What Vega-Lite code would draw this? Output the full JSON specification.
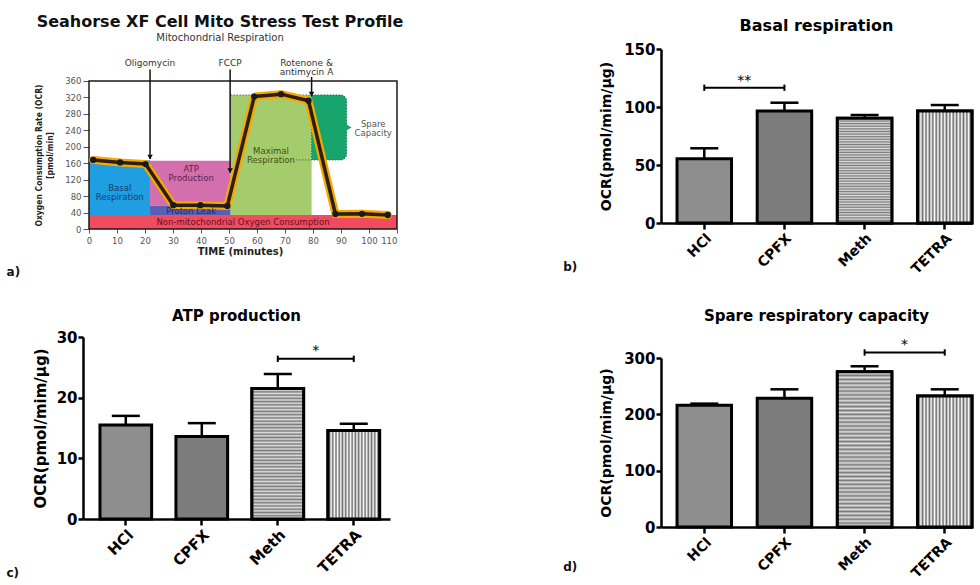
{
  "$schema": "https://vega.github.io/schema/vega-lite/v6.json",
  "padding": {"left": 6, "top": 14, "right": 1, "bottom": 0},
  "background": "white",
  "spacing": 159,
  "hconcat": [
    {
      "spacing": 31,
      "vconcat": [
        {
          "width": 314,
          "height": 180,
          "title": {"text": "Seahorse XF Cell Mito Stress Test Profile", "subtitle": "Mitochondrial Respiration", "fontSize": 16, "fontWeight": "bold", "color": "#111", "subtitleFontSize": 10, "subtitleColor": "#333", "subtitlePadding": 3, "anchor": "middle", "frame": "group", "dx": -20, "offset": 6},
          "resolve": {"scale": {"color": "independent"}},
          "layer": [
            {
              "data": {"values": [
                {"region": "nonmito", "t": 0, "t2": 110, "y": 0, "y2": 34},
                {"region": "basal", "t": 0, "t2": 21.8, "y": 34, "y2": 167},
                {"region": "atp", "t": 21.8, "t2": 50.6, "y": 56.5, "y2": 166},
                {"region": "leak", "t": 21.8, "t2": 50.6, "y": 34, "y2": 56.5},
                {"region": "maximal", "t": 50.6, "t2": 79.5, "y": 34, "y2": 326}
              ]},
              "mark": {"type": "rect"},
              "encoding": {
                "x": {"field": "t", "type": "quantitative", "scale": {"domain": [-2.143, 110], "nice": false, "zero": false},
                  "axis": {"values": [0, 10, 20, 30, 40, 50, 60, 70, 80, 90, 100, 110], "tickCount": 12, "labelOverlap": false, "labelSeparation": 0, "domain": false, "title": "TIME (minutes)", "titleFontSize": 10, "titleFontWeight": "bold", "titleColor": "#222", "labelFont": "DejaVu Sans Condensed, Liberation Sans Narrow, sans-serif", "labelFontSize": 9.5, "labelColor": "#555", "tickColor": "#555", "tickSize": 4, "labelPadding": 2, "titlePadding": 2}},
                "x2": {"field": "t2"},
                "y": {"field": "y", "type": "quantitative", "scale": {"domain": [0, 437.8], "nice": false},
                  "axis": {"values": [0, 40, 80, 120, 160, 200, 240, 280, 320, 360], "tickCount": 10, "labelOverlap": false, "labelSeparation": 0, "domain": false, "offset": -6, "title": ["Oxygen Consumption Rate (OCR)", "[pmol/min]"], "titleFont": "DejaVu Sans Condensed, Liberation Sans Narrow, sans-serif", "titleFontSize": 8.5, "titleFontWeight": "bold", "titleColor": "#222", "titleY": 106, "titleLineHeight": 11, "labelFont": "DejaVu Sans Condensed, Liberation Sans Narrow, sans-serif", "labelFontSize": 9.5, "labelColor": "#555", "tickColor": "#555", "tickSize": 6, "labelPadding": 2, "titlePadding": 10}},
                "y2": {"field": "y2"},
                "color": {"field": "region", "type": "nominal", "scale": {"domain": ["nonmito", "basal", "atp", "leak", "maximal"], "range": ["#f04b5f", "#1f9ee2", "#d46fae", "#5a5fb3", "#a4cc6c"]}, "legend": null}
              }
            },
            {
              "data": {"values": [{"t": 79.5, "t2": 92, "y": 168, "y2": 326}]},
              "mark": {"type": "rect", "fill": "#18a56d", "stroke": "#0d7a4e", "strokeDash": [1.5, 1.5], "strokeWidth": 1, "cornerRadiusTopRight": 6, "cornerRadiusBottomRight": 6},
              "encoding": {"x": {"field": "t", "type": "quantitative"}, "x2": {"field": "t2"}, "y": {"field": "y", "type": "quantitative"}, "y2": {"field": "y2"}}
            },
            {
              "data": {"values": [{"t": 92.6, "y": 247}]},
              "mark": {"type": "point", "shape": "triangle-right", "filled": true, "color": "#18a56d", "size": 60, "opacity": 1},
              "encoding": {"x": {"field": "t", "type": "quantitative"}, "y": {"field": "y", "type": "quantitative"}}
            },
            {
              "data": {"values": [{"t": 50.6, "t2": 79.5, "y": 326}, {"t": 74, "t2": 79.5, "y": 168}]},
              "mark": {"type": "rule", "strokeDash": [1, 2], "color": "#2d4a2d", "strokeWidth": 1},
              "encoding": {"x": {"field": "t", "type": "quantitative"}, "x2": {"field": "t2"}, "y": {"field": "y", "type": "quantitative"}}
            },
            {
              "data": {"values": [{"t": 0, "t2": 110, "y": 0, "y2": 360}]},
              "mark": {"type": "rect", "fill": null, "fillOpacity": 0, "stroke": "#1a1a1a", "strokeWidth": 1.5},
              "encoding": {"x": {"field": "t", "type": "quantitative"}, "x2": {"field": "t2"}, "y": {"field": "y", "type": "quantitative"}, "y2": {"field": "y2"}}
            },
            {
              "data": {"name": "ocr", "values": [
                {"t": 1.5, "y": 168}, {"t": 11.1, "y": 162}, {"t": 20.2, "y": 158},
                {"t": 30.1, "y": 58}, {"t": 39.8, "y": 58}, {"t": 49.4, "y": 56},
                {"t": 59, "y": 322}, {"t": 68.6, "y": 328}, {"t": 78.4, "y": 312},
                {"t": 88, "y": 36.5}, {"t": 97.5, "y": 37}, {"t": 106.7, "y": 34}
              ]},
              "layer": [
                {"mark": {"type": "line", "color": "#f5a900", "strokeWidth": 8, "strokeCap": "round", "strokeJoin": "round"}, "encoding": {"x": {"field": "t", "type": "quantitative"}, "y": {"field": "y", "type": "quantitative"}}},
                {"mark": {"type": "line", "color": "#2a1f10", "strokeWidth": 3.5, "strokeJoin": "round"}, "encoding": {"x": {"field": "t", "type": "quantitative"}, "y": {"field": "y", "type": "quantitative"}}},
                {"mark": {"type": "point", "filled": true, "color": "#1a1a1a", "size": 40, "opacity": 1}, "encoding": {"x": {"field": "t", "type": "quantitative"}, "y": {"field": "y", "type": "quantitative"}}}
              ]
            },
            {
              "data": {"name": "arrows", "values": [
                {"t": 21.8, "y": 388, "y2": 170},
                {"t": 50.4, "y": 388, "y2": 137},
                {"t": 79.5, "y": 370, "y2": 323}
              ]},
              "layer": [
                {"mark": {"type": "rule", "color": "#111", "strokeWidth": 1.5}, "encoding": {"x": {"field": "t", "type": "quantitative"}, "y": {"field": "y", "type": "quantitative"}, "y2": {"field": "y2"}}},
                {"mark": {"type": "point", "shape": "triangle-down", "filled": true, "color": "#111", "size": 30, "opacity": 1}, "encoding": {"x": {"field": "t", "type": "quantitative"}, "y": {"field": "y2", "type": "quantitative"}, "yOffset": {"value": -2}}}
              ]
            },
            {
              "data": {"values": [
                {"t": 21.8, "y": 404, "label": "Oligomycin"},
                {"t": 50.4, "y": 404, "label": "FCCP"},
                {"t": 77.7, "y": 404, "label": "Rotenone &"},
                {"t": 77.7, "y": 383, "label": "antimycin A"}
              ]},
              "mark": {"type": "text", "fontSize": 9, "color": "#333", "baseline": "middle"},
              "encoding": {"x": {"field": "t", "type": "quantitative"}, "y": {"field": "y", "type": "quantitative"}, "text": {"field": "label"}}
            },
            {
              "data": {"values": [
                {"t": 11, "y": 100, "label": "Basal", "region": "basal"},
                {"t": 11, "y": 79, "label": "Respiration", "region": "basal"},
                {"t": 36.5, "y": 146, "label": "ATP", "region": "atp"},
                {"t": 36.5, "y": 124, "label": "Production", "region": "atp"},
                {"t": 36.5, "y": 44, "label": "Proton Leak", "region": "leak"},
                {"t": 55, "y": 17, "label": "Non-mitochondrial Oxygen Consumption", "region": "nonmito"},
                {"t": 65, "y": 190, "label": "Maximal", "region": "maximal"},
                {"t": 65, "y": 169, "label": "Respiration", "region": "maximal"},
                {"t": 101.5, "y": 255, "label": "Spare", "region": "spare"},
                {"t": 101.5, "y": 234, "label": "Capacity", "region": "spare"}
              ]},
              "mark": {"type": "text", "fontSize": 8.5, "baseline": "middle"},
              "encoding": {
                "x": {"field": "t", "type": "quantitative"},
                "y": {"field": "y", "type": "quantitative"},
                "text": {"field": "label"},
                "color": {"field": "region", "type": "nominal", "scale": {"domain": ["basal", "atp", "leak", "nonmito", "maximal", "spare"], "range": ["#173a6b", "#5b1f4a", "#1b2a5c", "#6a0f22", "#3b4d1f", "#555555"]}, "legend": null}
              }
            },
            {
              "data": {"values": [{"t": -27, "y": -104, "label": "a)"}]},
              "mark": {"type": "text", "fontSize": 12, "fontWeight": "bold", "color": "#111", "baseline": "middle"},
              "encoding": {"x": {"field": "t", "type": "quantitative"}, "y": {"field": "y", "type": "quantitative"}, "text": {"field": "label"}}
            }
          ]
        },
        {
          "width": 307,
          "height": 182,
          "title": {"text": "ATP production", "fontSize": 15, "fontWeight": "bold", "anchor": "middle", "frame": "group", "offset": 6},
          "layer": [
            {
              "data": {"name": "atp", "values": [
                {"g": "HCl", "v": 15.5, "hi": 17.0},
                {"g": "CPFX", "v": 13.6, "hi": 15.8},
                {"g": "Meth", "v": 21.5, "hi": 23.9},
                {"g": "TETRA", "v": 14.6, "hi": 15.7}
              ]},
              "layer": [
                {
                  "mark": {"type": "bar", "stroke": "#000", "strokeWidth": 3},
                  "encoding": {
                    "x": {"field": "g", "type": "nominal", "sort": null, "scale": {"domain": ["HCl", "CPFX", "Meth", "TETRA"], "paddingInner": 0.32, "paddingOuter": 0.18, "align": 0.62},
                      "axis": {"title": null, "labelAngle": -45, "labelFontSize": 15, "labelFontWeight": "bold", "domainWidth": 2.5, "tickWidth": 2.5, "tickSize": 6, "labelPadding": 2}},
                    "y": {"field": "v", "type": "quantitative", "scale": {"domain": [0, 30], "nice": false},
                      "axis": {"values": [0, 10, 20, 30], "title": "OCR(pmol/mim/μg)", "titleFontSize": 15, "titleFontWeight": "bold", "labelFontSize": 15, "labelFontWeight": "bold", "domainWidth": 2.5, "tickWidth": 2.5, "tickSize": 5, "labelPadding": 1, "titlePadding": 8}},
                    "fill": {"field": "g", "type": "nominal", "scale": {"domain": ["HCl", "CPFX", "Meth", "TETRA"], "range": ["#8e8e8e", "#7c7c7c", "#a8a8a8", "#b8b8b8"]}, "legend": null}
                  }
                },
                {"transform": [{"filter": "datum.g === 'Meth'"}], "mark": {"type": "bar", "stroke": "#000", "strokeWidth": 3, "fill": {"gradient": "linear", "x1": 0, "y1": 0, "x2": 0, "y2": 1, "stops": [{"offset":0,"color":"#7a7a7a"},{"offset":0.0125,"color":"#dedede"},{"offset":0.025,"color":"#7a7a7a"},{"offset":0.0375,"color":"#dedede"},{"offset":0.05,"color":"#7a7a7a"},{"offset":0.0625,"color":"#dedede"},{"offset":0.075,"color":"#7a7a7a"},{"offset":0.0875,"color":"#dedede"},{"offset":0.1,"color":"#7a7a7a"},{"offset":0.1125,"color":"#dedede"},{"offset":0.125,"color":"#7a7a7a"},{"offset":0.1375,"color":"#dedede"},{"offset":0.15,"color":"#7a7a7a"},{"offset":0.1625,"color":"#dedede"},{"offset":0.175,"color":"#7a7a7a"},{"offset":0.1875,"color":"#dedede"},{"offset":0.2,"color":"#7a7a7a"},{"offset":0.2125,"color":"#dedede"},{"offset":0.225,"color":"#7a7a7a"},{"offset":0.2375,"color":"#dedede"},{"offset":0.25,"color":"#7a7a7a"},{"offset":0.2625,"color":"#dedede"},{"offset":0.275,"color":"#7a7a7a"},{"offset":0.2875,"color":"#dedede"},{"offset":0.3,"color":"#7a7a7a"},{"offset":0.3125,"color":"#dedede"},{"offset":0.325,"color":"#7a7a7a"},{"offset":0.3375,"color":"#dedede"},{"offset":0.35,"color":"#7a7a7a"},{"offset":0.3625,"color":"#dedede"},{"offset":0.375,"color":"#7a7a7a"},{"offset":0.3875,"color":"#dedede"},{"offset":0.4,"color":"#7a7a7a"},{"offset":0.4125,"color":"#dedede"},{"offset":0.425,"color":"#7a7a7a"},{"offset":0.4375,"color":"#dedede"},{"offset":0.45,"color":"#7a7a7a"},{"offset":0.4625,"color":"#dedede"},{"offset":0.475,"color":"#7a7a7a"},{"offset":0.4875,"color":"#dedede"},{"offset":0.5,"color":"#7a7a7a"},{"offset":0.5125,"color":"#dedede"},{"offset":0.525,"color":"#7a7a7a"},{"offset":0.5375,"color":"#dedede"},{"offset":0.55,"color":"#7a7a7a"},{"offset":0.5625,"color":"#dedede"},{"offset":0.575,"color":"#7a7a7a"},{"offset":0.5875,"color":"#dedede"},{"offset":0.6,"color":"#7a7a7a"},{"offset":0.6125,"color":"#dedede"},{"offset":0.625,"color":"#7a7a7a"},{"offset":0.6375,"color":"#dedede"},{"offset":0.65,"color":"#7a7a7a"},{"offset":0.6625,"color":"#dedede"},{"offset":0.675,"color":"#7a7a7a"},{"offset":0.6875,"color":"#dedede"},{"offset":0.7,"color":"#7a7a7a"},{"offset":0.7125,"color":"#dedede"},{"offset":0.725,"color":"#7a7a7a"},{"offset":0.7375,"color":"#dedede"},{"offset":0.75,"color":"#7a7a7a"},{"offset":0.7625,"color":"#dedede"},{"offset":0.775,"color":"#7a7a7a"},{"offset":0.7875,"color":"#dedede"},{"offset":0.8,"color":"#7a7a7a"},{"offset":0.8125,"color":"#dedede"},{"offset":0.825,"color":"#7a7a7a"},{"offset":0.8375,"color":"#dedede"},{"offset":0.85,"color":"#7a7a7a"},{"offset":0.8625,"color":"#dedede"},{"offset":0.875,"color":"#7a7a7a"},{"offset":0.8875,"color":"#dedede"},{"offset":0.9,"color":"#7a7a7a"},{"offset":0.9125,"color":"#dedede"},{"offset":0.925,"color":"#7a7a7a"},{"offset":0.9375,"color":"#dedede"},{"offset":0.95,"color":"#7a7a7a"},{"offset":0.9625,"color":"#dedede"},{"offset":0.975,"color":"#7a7a7a"},{"offset":0.9875,"color":"#dedede"},{"offset":1,"color":"#7a7a7a"}]}}, "encoding": {"x": {"field": "g", "type": "nominal"}, "y": {"field": "v", "type": "quantitative"}}},
                {"transform": [{"filter": "datum.g === 'TETRA'"}], "mark": {"type": "bar", "stroke": "#000", "strokeWidth": 3, "fill": {"gradient": "linear", "x1": 0, "y1": 0, "x2": 1, "y2": 0, "stops": [{"offset":0,"color":"#ffffff"},{"offset":0.03125,"color":"#6a6a6a"},{"offset":0.0625,"color":"#ffffff"},{"offset":0.09375,"color":"#6a6a6a"},{"offset":0.125,"color":"#ffffff"},{"offset":0.15625,"color":"#6a6a6a"},{"offset":0.1875,"color":"#ffffff"},{"offset":0.21875,"color":"#6a6a6a"},{"offset":0.25,"color":"#ffffff"},{"offset":0.28125,"color":"#6a6a6a"},{"offset":0.3125,"color":"#ffffff"},{"offset":0.34375,"color":"#6a6a6a"},{"offset":0.375,"color":"#ffffff"},{"offset":0.40625,"color":"#6a6a6a"},{"offset":0.4375,"color":"#ffffff"},{"offset":0.46875,"color":"#6a6a6a"},{"offset":0.5,"color":"#ffffff"},{"offset":0.53125,"color":"#6a6a6a"},{"offset":0.5625,"color":"#ffffff"},{"offset":0.59375,"color":"#6a6a6a"},{"offset":0.625,"color":"#ffffff"},{"offset":0.65625,"color":"#6a6a6a"},{"offset":0.6875,"color":"#ffffff"},{"offset":0.71875,"color":"#6a6a6a"},{"offset":0.75,"color":"#ffffff"},{"offset":0.78125,"color":"#6a6a6a"},{"offset":0.8125,"color":"#ffffff"},{"offset":0.84375,"color":"#6a6a6a"},{"offset":0.875,"color":"#ffffff"},{"offset":0.90625,"color":"#6a6a6a"},{"offset":0.9375,"color":"#ffffff"},{"offset":0.96875,"color":"#6a6a6a"},{"offset":1,"color":"#ffffff"}]}}, "encoding": {"x": {"field": "g", "type": "nominal"}, "y": {"field": "v", "type": "quantitative"}}},
                {"mark": {"type": "rule", "color": "#000", "strokeWidth": 2.5}, "encoding": {"x": {"field": "g", "type": "nominal"}, "y": {"field": "v", "type": "quantitative"}, "y2": {"field": "hi"}}},
                {"mark": {"type": "tick", "color": "#000", "thickness": 2.5, "size": 28, "opacity": 1}, "encoding": {"x": {"field": "g", "type": "nominal"}, "y": {"field": "hi", "type": "quantitative"}}}
              ]
            },
            {
              "data": {"name": "atpsig", "values": [{"a": "Meth", "b": "TETRA", "y": 26.4, "s": "*"}]},
              "layer": [
                {"mark": {"type": "rule", "color": "#000", "strokeWidth": 2}, "encoding": {"x": {"field": "a", "type": "nominal"}, "x2": {"field": "b"}, "y": {"field": "y", "type": "quantitative"}}},
                {"mark": {"type": "point", "shape": "M0,-1L0,1", "stroke": "#000", "strokeWidth": 2, "size": 40, "filled": false, "opacity": 1}, "encoding": {"x": {"field": "a", "type": "nominal"}, "y": {"field": "y", "type": "quantitative"}}},
                {"mark": {"type": "point", "shape": "M0,-1L0,1", "stroke": "#000", "strokeWidth": 2, "size": 40, "filled": false, "opacity": 1}, "encoding": {"x": {"field": "b", "type": "nominal"}, "y": {"field": "y", "type": "quantitative"}}},
                {"mark": {"type": "text", "fontSize": 14, "dx": 38, "dy": -8, "baseline": "middle", "color": "#000"}, "encoding": {"x": {"field": "a", "type": "nominal"}, "y": {"field": "y", "type": "quantitative"}, "text": {"field": "s"}}}
              ]
            },
            {
              "data": {"values": [{"g": "HCl", "y": -8.9, "s": "c)"}]},
              "mark": {"type": "text", "fontSize": 12, "fontWeight": "bold", "dx": -113, "baseline": "middle", "color": "#111"},
              "encoding": {"x": {"field": "g", "type": "nominal"}, "y": {"field": "y", "type": "quantitative"}, "text": {"field": "s"}}
            }
          ]
        }
      ]
    },
    {
      "spacing": 31,
      "vconcat": [
        {
          "width": 311,
          "height": 174,
          "title": {"text": "Basal respiration", "fontSize": 16, "fontWeight": "bold", "anchor": "middle", "frame": "group", "offset": 8},
          "layer": [
            {
              "data": {"name": "basal", "values": [
                {"g": "HCl", "v": 55.4, "hi": 64.4},
                {"g": "CPFX", "v": 96.6, "hi": 103.7},
                {"g": "Meth", "v": 90.2, "hi": 93.1},
                {"g": "TETRA", "v": 96.6, "hi": 101.7}
              ]},
              "layer": [
                {
                  "mark": {"type": "bar", "stroke": "#000", "strokeWidth": 3},
                  "encoding": {
                    "x": {"field": "g", "type": "nominal", "sort": null, "scale": {"domain": ["HCl", "CPFX", "Meth", "TETRA"], "paddingInner": 0.32, "paddingOuter": 0.1, "align": 1},
                      "axis": {"title": null, "labelAngle": -45, "labelFontSize": 14, "labelFontWeight": "bold", "domainWidth": 2.5, "tickWidth": 2.5, "tickSize": 6, "labelPadding": 2}},
                    "y": {"field": "v", "type": "quantitative", "scale": {"domain": [0, 150], "nice": false},
                      "axis": {"values": [0, 50, 100, 150], "title": "OCR(pmol/mim/μg)", "titleFontSize": 14, "titleFontWeight": "bold", "labelFontSize": 15, "labelFontWeight": "bold", "domainWidth": 2.5, "tickWidth": 2.5, "tickSize": 5, "labelPadding": 1, "titlePadding": 10}},
                    "fill": {"field": "g", "type": "nominal", "scale": {"domain": ["HCl", "CPFX", "Meth", "TETRA"], "range": ["#8e8e8e", "#7c7c7c", "#a8a8a8", "#b8b8b8"]}, "legend": null}
                  }
                },
                {"transform": [{"filter": "datum.g === 'Meth'"}], "mark": {"type": "bar", "stroke": "#000", "strokeWidth": 3, "fill": {"gradient": "linear", "x1": 0, "y1": 0, "x2": 0, "y2": 1, "stops": [{"offset":0,"color":"#7a7a7a"},{"offset":0.0125,"color":"#dedede"},{"offset":0.025,"color":"#7a7a7a"},{"offset":0.0375,"color":"#dedede"},{"offset":0.05,"color":"#7a7a7a"},{"offset":0.0625,"color":"#dedede"},{"offset":0.075,"color":"#7a7a7a"},{"offset":0.0875,"color":"#dedede"},{"offset":0.1,"color":"#7a7a7a"},{"offset":0.1125,"color":"#dedede"},{"offset":0.125,"color":"#7a7a7a"},{"offset":0.1375,"color":"#dedede"},{"offset":0.15,"color":"#7a7a7a"},{"offset":0.1625,"color":"#dedede"},{"offset":0.175,"color":"#7a7a7a"},{"offset":0.1875,"color":"#dedede"},{"offset":0.2,"color":"#7a7a7a"},{"offset":0.2125,"color":"#dedede"},{"offset":0.225,"color":"#7a7a7a"},{"offset":0.2375,"color":"#dedede"},{"offset":0.25,"color":"#7a7a7a"},{"offset":0.2625,"color":"#dedede"},{"offset":0.275,"color":"#7a7a7a"},{"offset":0.2875,"color":"#dedede"},{"offset":0.3,"color":"#7a7a7a"},{"offset":0.3125,"color":"#dedede"},{"offset":0.325,"color":"#7a7a7a"},{"offset":0.3375,"color":"#dedede"},{"offset":0.35,"color":"#7a7a7a"},{"offset":0.3625,"color":"#dedede"},{"offset":0.375,"color":"#7a7a7a"},{"offset":0.3875,"color":"#dedede"},{"offset":0.4,"color":"#7a7a7a"},{"offset":0.4125,"color":"#dedede"},{"offset":0.425,"color":"#7a7a7a"},{"offset":0.4375,"color":"#dedede"},{"offset":0.45,"color":"#7a7a7a"},{"offset":0.4625,"color":"#dedede"},{"offset":0.475,"color":"#7a7a7a"},{"offset":0.4875,"color":"#dedede"},{"offset":0.5,"color":"#7a7a7a"},{"offset":0.5125,"color":"#dedede"},{"offset":0.525,"color":"#7a7a7a"},{"offset":0.5375,"color":"#dedede"},{"offset":0.55,"color":"#7a7a7a"},{"offset":0.5625,"color":"#dedede"},{"offset":0.575,"color":"#7a7a7a"},{"offset":0.5875,"color":"#dedede"},{"offset":0.6,"color":"#7a7a7a"},{"offset":0.6125,"color":"#dedede"},{"offset":0.625,"color":"#7a7a7a"},{"offset":0.6375,"color":"#dedede"},{"offset":0.65,"color":"#7a7a7a"},{"offset":0.6625,"color":"#dedede"},{"offset":0.675,"color":"#7a7a7a"},{"offset":0.6875,"color":"#dedede"},{"offset":0.7,"color":"#7a7a7a"},{"offset":0.7125,"color":"#dedede"},{"offset":0.725,"color":"#7a7a7a"},{"offset":0.7375,"color":"#dedede"},{"offset":0.75,"color":"#7a7a7a"},{"offset":0.7625,"color":"#dedede"},{"offset":0.775,"color":"#7a7a7a"},{"offset":0.7875,"color":"#dedede"},{"offset":0.8,"color":"#7a7a7a"},{"offset":0.8125,"color":"#dedede"},{"offset":0.825,"color":"#7a7a7a"},{"offset":0.8375,"color":"#dedede"},{"offset":0.85,"color":"#7a7a7a"},{"offset":0.8625,"color":"#dedede"},{"offset":0.875,"color":"#7a7a7a"},{"offset":0.8875,"color":"#dedede"},{"offset":0.9,"color":"#7a7a7a"},{"offset":0.9125,"color":"#dedede"},{"offset":0.925,"color":"#7a7a7a"},{"offset":0.9375,"color":"#dedede"},{"offset":0.95,"color":"#7a7a7a"},{"offset":0.9625,"color":"#dedede"},{"offset":0.975,"color":"#7a7a7a"},{"offset":0.9875,"color":"#dedede"},{"offset":1,"color":"#7a7a7a"}]}}, "encoding": {"x": {"field": "g", "type": "nominal"}, "y": {"field": "v", "type": "quantitative"}}},
                {"transform": [{"filter": "datum.g === 'TETRA'"}], "mark": {"type": "bar", "stroke": "#000", "strokeWidth": 3, "fill": {"gradient": "linear", "x1": 0, "y1": 0, "x2": 1, "y2": 0, "stops": [{"offset":0,"color":"#ffffff"},{"offset":0.03125,"color":"#6a6a6a"},{"offset":0.0625,"color":"#ffffff"},{"offset":0.09375,"color":"#6a6a6a"},{"offset":0.125,"color":"#ffffff"},{"offset":0.15625,"color":"#6a6a6a"},{"offset":0.1875,"color":"#ffffff"},{"offset":0.21875,"color":"#6a6a6a"},{"offset":0.25,"color":"#ffffff"},{"offset":0.28125,"color":"#6a6a6a"},{"offset":0.3125,"color":"#ffffff"},{"offset":0.34375,"color":"#6a6a6a"},{"offset":0.375,"color":"#ffffff"},{"offset":0.40625,"color":"#6a6a6a"},{"offset":0.4375,"color":"#ffffff"},{"offset":0.46875,"color":"#6a6a6a"},{"offset":0.5,"color":"#ffffff"},{"offset":0.53125,"color":"#6a6a6a"},{"offset":0.5625,"color":"#ffffff"},{"offset":0.59375,"color":"#6a6a6a"},{"offset":0.625,"color":"#ffffff"},{"offset":0.65625,"color":"#6a6a6a"},{"offset":0.6875,"color":"#ffffff"},{"offset":0.71875,"color":"#6a6a6a"},{"offset":0.75,"color":"#ffffff"},{"offset":0.78125,"color":"#6a6a6a"},{"offset":0.8125,"color":"#ffffff"},{"offset":0.84375,"color":"#6a6a6a"},{"offset":0.875,"color":"#ffffff"},{"offset":0.90625,"color":"#6a6a6a"},{"offset":0.9375,"color":"#ffffff"},{"offset":0.96875,"color":"#6a6a6a"},{"offset":1,"color":"#ffffff"}]}}, "encoding": {"x": {"field": "g", "type": "nominal"}, "y": {"field": "v", "type": "quantitative"}}},
                {"mark": {"type": "rule", "color": "#000", "strokeWidth": 2.5}, "encoding": {"x": {"field": "g", "type": "nominal"}, "y": {"field": "v", "type": "quantitative"}, "y2": {"field": "hi"}}},
                {"mark": {"type": "tick", "color": "#000", "thickness": 2.5, "size": 28, "opacity": 1}, "encoding": {"x": {"field": "g", "type": "nominal"}, "y": {"field": "hi", "type": "quantitative"}}}
              ]
            },
            {
              "data": {"name": "basalsig", "values": [{"a": "HCl", "b": "CPFX", "y": 116.6, "s": "**"}]},
              "layer": [
                {"mark": {"type": "rule", "color": "#000", "strokeWidth": 2}, "encoding": {"x": {"field": "a", "type": "nominal"}, "x2": {"field": "b"}, "y": {"field": "y", "type": "quantitative"}}},
                {"mark": {"type": "point", "shape": "M0,-1L0,1", "stroke": "#000", "strokeWidth": 2, "size": 40, "filled": false, "opacity": 1}, "encoding": {"x": {"field": "a", "type": "nominal"}, "y": {"field": "y", "type": "quantitative"}}},
                {"mark": {"type": "point", "shape": "M0,-1L0,1", "stroke": "#000", "strokeWidth": 2, "size": 40, "filled": false, "opacity": 1}, "encoding": {"x": {"field": "b", "type": "nominal"}, "y": {"field": "y", "type": "quantitative"}}},
                {"mark": {"type": "text", "fontSize": 14, "dx": 40, "dy": -7, "baseline": "middle", "color": "#000"}, "encoding": {"x": {"field": "a", "type": "nominal"}, "y": {"field": "y", "type": "quantitative"}, "text": {"field": "s"}}}
              ]
            },
            {
              "data": {"values": [{"g": "HCl", "y": -38, "s": "b)"}]},
              "mark": {"type": "text", "fontSize": 12, "fontWeight": "bold", "dx": -134, "baseline": "middle", "color": "#111"},
              "encoding": {"x": {"field": "g", "type": "nominal"}, "y": {"field": "y", "type": "quantitative"}, "text": {"field": "s"}}
            }
          ]
        },
        {
          "width": 311,
          "height": 169,
          "title": {"text": "Spare respiratory capacity", "fontSize": 15, "fontWeight": "bold", "anchor": "middle", "frame": "group", "offset": 14.5},
          "layer": [
            {
              "data": {"name": "spare", "values": [
                {"g": "HCl", "v": 216, "hi": 219},
                {"g": "CPFX", "v": 228.4, "hi": 244.4},
                {"g": "Meth", "v": 275.8, "hi": 285.3},
                {"g": "TETRA", "v": 232.5, "hi": 244.4}
              ]},
              "layer": [
                {
                  "mark": {"type": "bar", "stroke": "#000", "strokeWidth": 3},
                  "encoding": {
                    "x": {"field": "g", "type": "nominal", "sort": null, "scale": {"domain": ["HCl", "CPFX", "Meth", "TETRA"], "paddingInner": 0.32, "paddingOuter": 0.1, "align": 1},
                      "axis": {"title": null, "labelAngle": -45, "labelFontSize": 14, "labelFontWeight": "bold", "domainWidth": 2.5, "tickWidth": 2.5, "tickSize": 6, "labelPadding": 2}},
                    "y": {"field": "v", "type": "quantitative", "scale": {"domain": [0, 300], "nice": false},
                      "axis": {"values": [0, 100, 200, 300], "title": "OCR(pmol/mim/μg)", "titleFontSize": 14, "titleFontWeight": "bold", "labelFontSize": 15, "labelFontWeight": "bold", "domainWidth": 2.5, "tickWidth": 2.5, "tickSize": 5, "labelPadding": 1, "titlePadding": 10}},
                    "fill": {"field": "g", "type": "nominal", "scale": {"domain": ["HCl", "CPFX", "Meth", "TETRA"], "range": ["#8e8e8e", "#7c7c7c", "#a8a8a8", "#b8b8b8"]}, "legend": null}
                  }
                },
                {"transform": [{"filter": "datum.g === 'Meth'"}], "mark": {"type": "bar", "stroke": "#000", "strokeWidth": 3, "fill": {"gradient": "linear", "x1": 0, "y1": 0, "x2": 0, "y2": 1, "stops": [{"offset":0,"color":"#7a7a7a"},{"offset":0.0125,"color":"#dedede"},{"offset":0.025,"color":"#7a7a7a"},{"offset":0.0375,"color":"#dedede"},{"offset":0.05,"color":"#7a7a7a"},{"offset":0.0625,"color":"#dedede"},{"offset":0.075,"color":"#7a7a7a"},{"offset":0.0875,"color":"#dedede"},{"offset":0.1,"color":"#7a7a7a"},{"offset":0.1125,"color":"#dedede"},{"offset":0.125,"color":"#7a7a7a"},{"offset":0.1375,"color":"#dedede"},{"offset":0.15,"color":"#7a7a7a"},{"offset":0.1625,"color":"#dedede"},{"offset":0.175,"color":"#7a7a7a"},{"offset":0.1875,"color":"#dedede"},{"offset":0.2,"color":"#7a7a7a"},{"offset":0.2125,"color":"#dedede"},{"offset":0.225,"color":"#7a7a7a"},{"offset":0.2375,"color":"#dedede"},{"offset":0.25,"color":"#7a7a7a"},{"offset":0.2625,"color":"#dedede"},{"offset":0.275,"color":"#7a7a7a"},{"offset":0.2875,"color":"#dedede"},{"offset":0.3,"color":"#7a7a7a"},{"offset":0.3125,"color":"#dedede"},{"offset":0.325,"color":"#7a7a7a"},{"offset":0.3375,"color":"#dedede"},{"offset":0.35,"color":"#7a7a7a"},{"offset":0.3625,"color":"#dedede"},{"offset":0.375,"color":"#7a7a7a"},{"offset":0.3875,"color":"#dedede"},{"offset":0.4,"color":"#7a7a7a"},{"offset":0.4125,"color":"#dedede"},{"offset":0.425,"color":"#7a7a7a"},{"offset":0.4375,"color":"#dedede"},{"offset":0.45,"color":"#7a7a7a"},{"offset":0.4625,"color":"#dedede"},{"offset":0.475,"color":"#7a7a7a"},{"offset":0.4875,"color":"#dedede"},{"offset":0.5,"color":"#7a7a7a"},{"offset":0.5125,"color":"#dedede"},{"offset":0.525,"color":"#7a7a7a"},{"offset":0.5375,"color":"#dedede"},{"offset":0.55,"color":"#7a7a7a"},{"offset":0.5625,"color":"#dedede"},{"offset":0.575,"color":"#7a7a7a"},{"offset":0.5875,"color":"#dedede"},{"offset":0.6,"color":"#7a7a7a"},{"offset":0.6125,"color":"#dedede"},{"offset":0.625,"color":"#7a7a7a"},{"offset":0.6375,"color":"#dedede"},{"offset":0.65,"color":"#7a7a7a"},{"offset":0.6625,"color":"#dedede"},{"offset":0.675,"color":"#7a7a7a"},{"offset":0.6875,"color":"#dedede"},{"offset":0.7,"color":"#7a7a7a"},{"offset":0.7125,"color":"#dedede"},{"offset":0.725,"color":"#7a7a7a"},{"offset":0.7375,"color":"#dedede"},{"offset":0.75,"color":"#7a7a7a"},{"offset":0.7625,"color":"#dedede"},{"offset":0.775,"color":"#7a7a7a"},{"offset":0.7875,"color":"#dedede"},{"offset":0.8,"color":"#7a7a7a"},{"offset":0.8125,"color":"#dedede"},{"offset":0.825,"color":"#7a7a7a"},{"offset":0.8375,"color":"#dedede"},{"offset":0.85,"color":"#7a7a7a"},{"offset":0.8625,"color":"#dedede"},{"offset":0.875,"color":"#7a7a7a"},{"offset":0.8875,"color":"#dedede"},{"offset":0.9,"color":"#7a7a7a"},{"offset":0.9125,"color":"#dedede"},{"offset":0.925,"color":"#7a7a7a"},{"offset":0.9375,"color":"#dedede"},{"offset":0.95,"color":"#7a7a7a"},{"offset":0.9625,"color":"#dedede"},{"offset":0.975,"color":"#7a7a7a"},{"offset":0.9875,"color":"#dedede"},{"offset":1,"color":"#7a7a7a"}]}}, "encoding": {"x": {"field": "g", "type": "nominal"}, "y": {"field": "v", "type": "quantitative"}}},
                {"transform": [{"filter": "datum.g === 'TETRA'"}], "mark": {"type": "bar", "stroke": "#000", "strokeWidth": 3, "fill": {"gradient": "linear", "x1": 0, "y1": 0, "x2": 1, "y2": 0, "stops": [{"offset":0,"color":"#ffffff"},{"offset":0.03125,"color":"#6a6a6a"},{"offset":0.0625,"color":"#ffffff"},{"offset":0.09375,"color":"#6a6a6a"},{"offset":0.125,"color":"#ffffff"},{"offset":0.15625,"color":"#6a6a6a"},{"offset":0.1875,"color":"#ffffff"},{"offset":0.21875,"color":"#6a6a6a"},{"offset":0.25,"color":"#ffffff"},{"offset":0.28125,"color":"#6a6a6a"},{"offset":0.3125,"color":"#ffffff"},{"offset":0.34375,"color":"#6a6a6a"},{"offset":0.375,"color":"#ffffff"},{"offset":0.40625,"color":"#6a6a6a"},{"offset":0.4375,"color":"#ffffff"},{"offset":0.46875,"color":"#6a6a6a"},{"offset":0.5,"color":"#ffffff"},{"offset":0.53125,"color":"#6a6a6a"},{"offset":0.5625,"color":"#ffffff"},{"offset":0.59375,"color":"#6a6a6a"},{"offset":0.625,"color":"#ffffff"},{"offset":0.65625,"color":"#6a6a6a"},{"offset":0.6875,"color":"#ffffff"},{"offset":0.71875,"color":"#6a6a6a"},{"offset":0.75,"color":"#ffffff"},{"offset":0.78125,"color":"#6a6a6a"},{"offset":0.8125,"color":"#ffffff"},{"offset":0.84375,"color":"#6a6a6a"},{"offset":0.875,"color":"#ffffff"},{"offset":0.90625,"color":"#6a6a6a"},{"offset":0.9375,"color":"#ffffff"},{"offset":0.96875,"color":"#6a6a6a"},{"offset":1,"color":"#ffffff"}]}}, "encoding": {"x": {"field": "g", "type": "nominal"}, "y": {"field": "v", "type": "quantitative"}}},
                {"mark": {"type": "rule", "color": "#000", "strokeWidth": 2.5}, "encoding": {"x": {"field": "g", "type": "nominal"}, "y": {"field": "v", "type": "quantitative"}, "y2": {"field": "hi"}}},
                {"mark": {"type": "tick", "color": "#000", "thickness": 2.5, "size": 28, "opacity": 1}, "encoding": {"x": {"field": "g", "type": "nominal"}, "y": {"field": "hi", "type": "quantitative"}}}
              ]
            },
            {
              "data": {"name": "sparesig", "values": [{"a": "Meth", "b": "TETRA", "y": 309.8, "s": "*"}]},
              "layer": [
                {"mark": {"type": "rule", "color": "#000", "strokeWidth": 2}, "encoding": {"x": {"field": "a", "type": "nominal"}, "x2": {"field": "b"}, "y": {"field": "y", "type": "quantitative"}}},
                {"mark": {"type": "point", "shape": "M0,-1L0,1", "stroke": "#000", "strokeWidth": 2, "size": 40, "filled": false, "opacity": 1}, "encoding": {"x": {"field": "a", "type": "nominal"}, "y": {"field": "y", "type": "quantitative"}}},
                {"mark": {"type": "point", "shape": "M0,-1L0,1", "stroke": "#000", "strokeWidth": 2, "size": 40, "filled": false, "opacity": 1}, "encoding": {"x": {"field": "b", "type": "nominal"}, "y": {"field": "y", "type": "quantitative"}}},
                {"mark": {"type": "text", "fontSize": 14, "dx": 40, "dy": -7, "baseline": "middle", "color": "#000"}, "encoding": {"x": {"field": "a", "type": "nominal"}, "y": {"field": "y", "type": "quantitative"}, "text": {"field": "s"}}}
              ]
            },
            {
              "data": {"values": [{"g": "HCl", "y": -71, "s": "d)"}]},
              "mark": {"type": "text", "fontSize": 12, "fontWeight": "bold", "dx": -134, "baseline": "middle", "color": "#111"},
              "encoding": {"x": {"field": "g", "type": "nominal"}, "y": {"field": "y", "type": "quantitative"}, "text": {"field": "s"}}
            }
          ]
        }
      ]
    }
  ],
  "config": {
    "font": "DejaVu Sans",
    "view": {"stroke": null},
    "title": {"font": "DejaVu Sans", "color": "#000"},
    "axis": {"grid": false, "labelOverlap": false, "domainColor": "#000", "tickColor": "#000", "labelColor": "#000", "titleColor": "#000", "labelFont": "DejaVu Sans", "titleFont": "DejaVu Sans"}
  }
}
